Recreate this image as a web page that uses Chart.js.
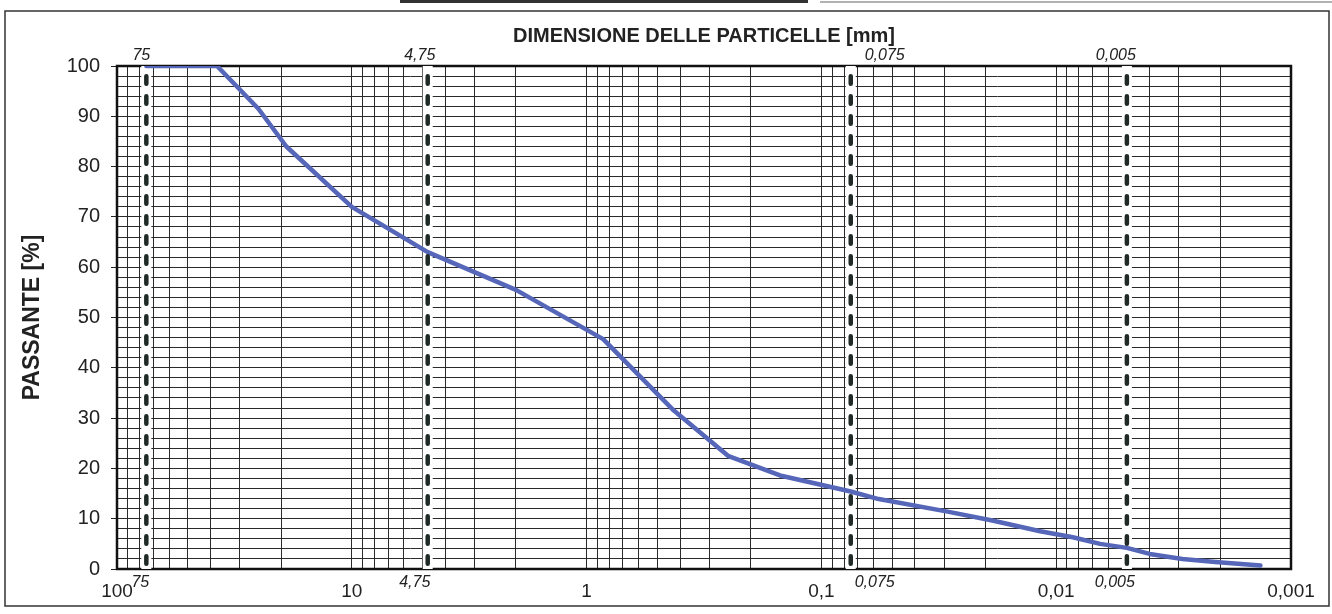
<!DOCTYPE html>
<html><head><meta charset="utf-8">
<script src="https://cdn.jsdelivr.net/npm/chart.js@4"></script>
<style>html,body{margin:0;padding:0;background:#fff}#wrap{width:1332px;height:614px;position:relative}</style>
</head><body><div id="wrap"><canvas id="c"></canvas></div>
<script>
// ---- data ----
const sizes   = [75, 37.5, 25, 19, 10, 4.75, 2, 0.85, 0.425, 0.25, 0.15, 0.075, 0.057, 0.029, 0.0185, 0.0117, 0.0085, 0.0065, 0.005, 0.004, 0.0029, 0.0021, 0.00135];
const passing = [100, 100, 91.5, 84, 72, 63, 55.5, 45.7, 31.5, 22.5, 18.6, 15.4, 13.9, 11.4, 9.6, 7.5, 6.3, 5.0, 4.2, 3.0, 2.0, 1.4, 0.7];
const markerSizes  = [75, 4.75, 0.075, 0.005];
const markerLabels = ['75', '4,75', '0,075', '0,005'];
const xTickValues  = [100, 10, 1, 0.1, 0.01, 0.001];
const xTickLabels  = ['100', '10', '1', '0,1', '0,01', '0,001'];
const yMin = 0, yMax = 100, yGridStep = 2, yLabelStep = 10;
const xTitle = 'DIMENSIONE DELLE PARTICELLE [mm]';
const yTitle = 'PASSANTE [%]';

// ---- style ----
const FONT = '"Liberation Sans", Arial, sans-serif';
const topDx = [-5, -8, 34, -11];
const botDx = [-6, -13, 24, -12];

// grid values: 1..9 x 10^k for each decade
const gridValues = [];
for (let k = -3; k <= 1; k++) for (let m = 1; m <= 9; m++) gridValues.push(+(m * Math.pow(10, k)).toPrecision(6));
gridValues.push(100);

const curve = sizes.map((s, i) => ({x: s, y: passing[i]}));
const markerSets = [];
const bandSets = [];
markerSizes.forEach(v => {
  markerSets.push({data: [{x: v, y: yMax}, {x: v, y: yMin}], borderColor: '#1f2a27', borderWidth: 4.5,
    borderDash: [7.5, 12.5], borderDashOffset: 9.75, borderCapStyle: 'round', pointRadius: 0, order: 0, fill: false});
  bandSets.push({data: [{x: v, y: yMax}, {x: v, y: yMin}], borderColor: '#ffffff', borderWidth: 10,
    pointRadius: 0, order: 2, fill: false});
});

const decor = {
  id: 'decor',
  beforeDraw(chart) {
    const ctx = chart.ctx;
    ctx.save(); ctx.fillStyle = '#fff'; ctx.fillRect(0, 0, chart.width, chart.height); ctx.restore();
  },
  beforeDatasetsDraw(chart) {
    const {ctx, chartArea: a} = chart;
    ctx.save();
    ctx.strokeStyle = '#111'; ctx.lineWidth = 2.5;
    ctx.strokeRect(a.left, a.top, a.right - a.left, a.bottom - a.top);
    ctx.restore();
  },
  afterDraw(chart) {
    const {ctx, chartArea: a} = chart;
    const x = chart.scales.x;
    ctx.save();
    ctx.font = 'italic 16px ' + FONT; ctx.fillStyle = '#222';
    ctx.textAlign = 'center'; ctx.textBaseline = 'middle';
    markerSizes.forEach((v, i) => {
      const px = x.getPixelForValue(v);
      ctx.fillText(markerLabels[i], px + topDx[i], a.top - 10);
      ctx.fillText(markerLabels[i], px + botDx[i], a.bottom + 14);
    });
    // outer frame
    ctx.strokeStyle = '#333'; ctx.lineWidth = 1.5;
    ctx.strokeRect(5, 11, 1324, 595);
    ctx.fillStyle = '#333'; ctx.fillRect(400, 0, 408, 3);
    ctx.strokeStyle = '#666'; ctx.lineWidth = 1.2;
    ctx.beginPath(); ctx.moveTo(820, 2); ctx.lineTo(1332, 2); ctx.stroke();
    ctx.restore();
  }
};

new Chart(document.getElementById('c'), {
  type: 'line',
  data: {
    datasets: [
      ...markerSets,
      {data: curve, borderColor: '#5666b8', borderWidth: 4.5, pointRadius: 0, tension: 0, order: 1, fill: false,
       borderJoinStyle: 'round', borderCapStyle: 'round'},
      ...bandSets
    ]
  },
  options: {
    responsive: true, maintainAspectRatio: false, animation: false,
    layout: {padding: {left: 0, right: 41, top: 0, bottom: 0}},
    plugins: {legend: {display: false}, tooltip: {enabled: false}},
    scales: {
      x: {
        type: 'logarithmic', position: 'bottom', reverse: true, min: 0.001, max: 100,
        afterBuildTicks: s => { s.ticks = gridValues.map(v => ({value: v})); },
        afterFit: s => { s.height = 45; },
        ticks: {
          autoSkip: false, maxRotation: 0, padding: 11, color: '#222', font: {family: FONT, size: 19},
          callback: v => { const i = xTickValues.findIndex(t => Math.abs(t - v) / t < 1e-6); return i >= 0 ? xTickLabels[i] : ''; }
        },
        grid: {color: '#2a2a2a', lineWidth: 1, drawTicks: false},
        border: {display: false}
      },
      xTop: {
        type: 'logarithmic', position: 'top', reverse: true, min: 0.001, max: 100,
        afterFit: s => { s.height = 66; },
        ticks: {display: false},
        grid: {display: false, drawTicks: false},
        border: {display: false},
        title: {display: true, text: xTitle, color: '#222', font: {family: FONT, size: 20, weight: 'bold'}, padding: {top: 24, bottom: 0}}
      },
      y: {
        min: yMin, max: yMax,
        afterFit: s => { s.width = 117; },
        ticks: {
          stepSize: yGridStep, autoSkip: false, padding: 11, color: '#222', font: {family: FONT, size: 20},
          callback: v => (v % yLabelStep === 0 ? String(v) : '')
        },
        grid: {color: '#2a2a2a', lineWidth: 1, tickLength: 6,
          tickColor: c => (c.tick && c.tick.value % yLabelStep === 0 ? '#222' : 'rgba(0,0,0,0)')},
        border: {display: false},
        title: {display: true, text: yTitle, color: '#222', font: {family: FONT, size: 23, weight: 'bold'}, padding: {top: 19, bottom: 0}}
      }
    }
  },
  plugins: [decor]
});
</script>
</body></html>
